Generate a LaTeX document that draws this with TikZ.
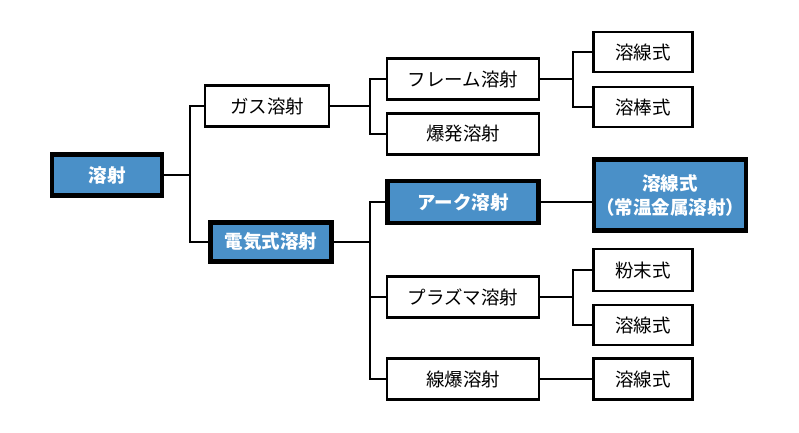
\documentclass[tikz,border=0pt]{standalone}
\usepackage{fontspec}
\newfontfamily\jp{Noto Sans CJK JP}
\definecolor{boxblue}{RGB}{74,144,200}
\tikzset{
  wbox/.style={draw=black, line width=2.2pt, fill=white, inner sep=0pt, align=center, font=\jp\fontsize{18.5}{22}\selectfont},
  bbox/.style={draw=black, line width=4.5pt, fill=boxblue, text=white, inner sep=0pt, align=center, font=\jp\bfseries\fontsize{18.5}{24}\selectfont},
  conn/.style={draw=black, line width=1.3pt}
}
\begin{document}
\begin{tikzpicture}[x=1pt,y=-1pt]
\useasboundingbox (0,0) rectangle (799,432);
% level 0
\node[bbox, minimum width=110pt, minimum height=41pt] (spray) at (107,175) {溶射};
% level 1
\node[wbox, minimum width=124pt, minimum height=41pt] (gas) at (267,106) {ガス溶射};
\node[bbox, minimum width=121pt, minimum height=39pt] (elec) at (271,242) {電気式溶射};
% level 2
\node[wbox, minimum width=152pt, minimum height=41pt] (flame) at (463,79) {フレーム溶射};
\node[wbox, minimum width=152pt, minimum height=41pt] (expl) at (463,134) {爆発溶射};
\node[bbox, minimum width=151pt, minimum height=42pt] (arc) at (463,202) {アーク溶射};
\node[wbox, minimum width=152pt, minimum height=41pt] (plasma) at (463,297) {プラズマ溶射};
\node[wbox, minimum width=152pt, minimum height=41pt] (wireex) at (463,379) {線爆溶射};
% level 3
\node[wbox, minimum width=99pt, minimum height=40pt] (f1) at (643,52) {溶線式};
\node[wbox, minimum width=99pt, minimum height=40pt] (f2) at (643,107) {溶棒式};
\node[bbox, minimum width=152pt, minimum height=71pt] (a1) at (670,195) {溶線式\\（常温金属溶射）};
\node[wbox, minimum width=99pt, minimum height=42pt] (p1) at (643,270) {粉末式};
\node[wbox, minimum width=99pt, minimum height=40pt] (p2) at (643,325) {溶線式};
\node[wbox, minimum width=99pt, minimum height=41pt] (w1) at (643,379) {溶線式};
% connectors
\coordinate (b0) at (190,175);
\draw[conn] (spray.east) -- (b0);
\draw[conn] (gas.west) -| (b0) |- (elec.west);
\coordinate (b1) at (370,106);
\draw[conn] (gas.east) -- (b1);
\draw[conn] (flame.west) -| (b1) |- (expl.west);
\coordinate (b2) at (573,79);
\draw[conn] (flame.east) -- (b2);
\draw[conn] (f1.west) -| (b2) |- (f2.west);
\coordinate (b3) at (370,242);
\draw[conn] (elec.east) -- (b3);
\draw[conn] (arc.west) -| (b3) |- (wireex.west);
\draw[conn] (b3) |- (plasma.west);
\draw[conn] (arc.east) -- (arc.east -| a1.west);
\coordinate (b4) at (573,297);
\draw[conn] (plasma.east) -- (b4);
\draw[conn] (p1.west) -| (b4) |- (p2.west);
\draw[conn] (wireex.east) -- (w1.west);
\end{tikzpicture}
\end{document}
